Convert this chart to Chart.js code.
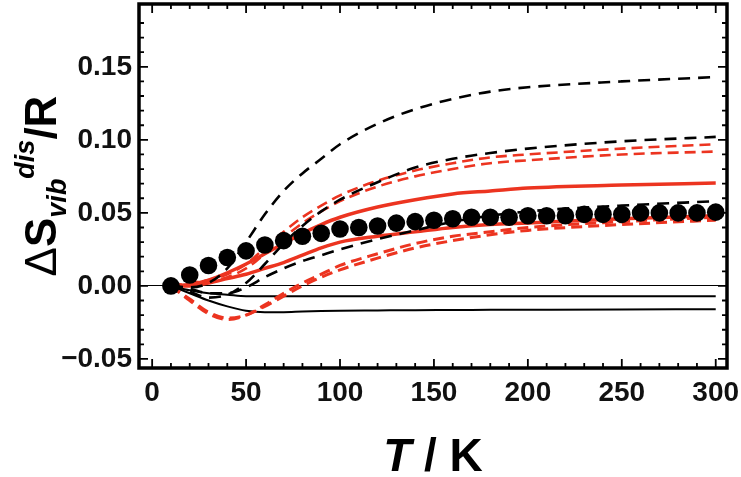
<!DOCTYPE html>
<html lang="en">
<head>
<meta charset="UTF-8">
<title>Vibrational entropy of disorder</title>
<style>
  body { margin: 0; background: #fff; }
  #chart { display: block; }
</style>
</head>
<body>
<canvas id="chart" width="741" height="477"></canvas>

<script src="https://cdn.jsdelivr.net/npm/chart.js@4.4.1/dist/chart.umd.min.js"></script>
<script>
// temperatures (K)
const tDots = [10,20,30,40,50,60,70,80,90,100,110,120,130,140,150,160,170,180,190,200,210,220,230,240,250,260,270,280,290,300];
const tCurve = [10,20,30,40,50,60,70,80,90,100,120,140,160,180,200,250,300];

// measured points (black dots)
const dots = [0,0.0075,0.014,0.0195,0.024,0.028,0.031,0.034,0.036,0.039,0.040,0.041,0.043,0.044,0.045,0.046,0.047,0.047,0.047,0.048,0.048,0.048,0.049,0.049,0.049,0.050,0.050,0.050,0.050,0.0505];

// model curves
const blackDashA = [0,-0.001,0.002,0.012,0.030,0.049,0.065,0.077,0.087,0.097,0.111,0.121,0.128,0.133,0.136,0.140,0.143];
const blackDashB = [0,-0.004,-0.008,-0.006,0.002,0.015,0.029,0.041,0.051,0.059,0.071,0.081,0.087,0.091,0.094,0.099,0.102];
const blackDashC = [0,-0.002,-0.005,-0.005,-0.001,0.006,0.012,0.017,0.021,0.025,0.032,0.038,0.044,0.048,0.051,0.055,0.058];
const redDashUpA = [0,0.002,0.004,0.008,0.015,0.026,0.037,0.047,0.055,0.062,0.072,0.079,0.084,0.088,0.090,0.094,0.097];
const redDashUpB = [0,0.001,0.003,0.006,0.012,0.022,0.033,0.043,0.051,0.058,0.068,0.075,0.080,0.084,0.086,0.090,0.092];
const redDashLoA = [0,-0.010,-0.019,-0.023,-0.020,-0.013,-0.005,0.002,0.008,0.014,0.022,0.029,0.034,0.037,0.040,0.044,0.047];
const redDashLoB = [0,-0.009,-0.018,-0.022,-0.020,-0.014,-0.007,0.000,0.006,0.011,0.019,0.026,0.031,0.035,0.038,0.042,0.045];
const redSolidA = [0,0.001,0.004,0.009,0.015,0.022,0.029,0.036,0.042,0.047,0.054,0.059,0.063,0.065,0.067,0.069,0.0705];
const redSolidB = [0,0.000,0.002,0.005,0.008,0.012,0.016,0.021,0.026,0.030,0.034,0.037,0.040,0.042,0.043,0.046,0.048];
const blackSolidA = [0,-0.003,-0.005,-0.006,-0.007,-0.007,-0.007,-0.007,-0.007,-0.007,-0.007,-0.007,-0.007,-0.007,-0.007,-0.007,-0.007];
const blackSolidB = [0,-0.005,-0.010,-0.014,-0.017,-0.018,-0.018,-0.0175,-0.0172,-0.017,-0.0168,-0.0166,-0.0165,-0.0164,-0.0163,-0.0161,-0.016];

// axes
const xTicks = [0,50,100,150,200,250,300];
const yTicks = [-0.05,0,0.05,0.10,0.15];
const yTickLabels = ['\u22120.05','0.00','0.05','0.10','0.15'];

const RED = 'rgb(236,52,32)';
const FONT = '"Liberation Sans", Arial, Helvetica, sans-serif';

const pts = (xs, ys) => xs.map((x, i) => ({x: x, y: ys[i]}));

function curve(data, color, width, dash) {
    return {
        data: pts(tCurve, data),
        showLine: true,
        borderColor: color,
        borderWidth: width,
        borderDash: dash || [],
        pointRadius: 0,
        cubicInterpolationMode: 'monotone',
        fill: false
    };
}

// frame with inside ticks on all four sides + axis titles
const framePlugin = {
    id: 'frame',
    afterDatasetsDraw(chart) {
        const {ctx, chartArea: a, scales: {x, y}} = chart;
        ctx.save();
        ctx.strokeStyle = '#000';
        ctx.lineWidth = 1.8;
        ctx.beginPath();
        for (let v = 0; v <= 300; v += 10) {
            const px = x.getPixelForValue(v);
            const len = v % 50 === 0 ? 9 : 5;
            ctx.moveTo(px, a.bottom); ctx.lineTo(px, a.bottom - len);
            ctx.moveTo(px, a.top); ctx.lineTo(px, a.top + len);
        }
        for (let k = -5; k <= 18; k++) {
            const py = y.getPixelForValue(k / 100);
            const len = k % 5 === 0 ? 9 : 5;
            ctx.moveTo(a.left, py); ctx.lineTo(a.left + len, py);
            ctx.moveTo(a.right, py); ctx.lineTo(a.right - len, py);
        }
        ctx.stroke();
        ctx.lineWidth = 3.5;
        ctx.strokeRect(a.left, a.top, a.right - a.left, a.bottom - a.top);
        ctx.restore();
    },
    afterDraw(chart) {
        const {ctx, chartArea: a} = chart;
        ctx.save();
        ctx.fillStyle = '#000';
        ctx.textBaseline = 'alphabetic';

        // x title: T / K
        const fT = 'italic bold 46px ' + FONT;
        const fK = 'bold 46px ' + FONT;
        ctx.font = fT; const wT = ctx.measureText('T').width;
        ctx.font = fK; const wK = ctx.measureText(' / K').width;
        const sx = (a.left + a.right) / 2 - (wT + wK) / 2;
        ctx.font = fT; ctx.fillText('T', sx, 471);
        ctx.font = fK; ctx.fillText(' / K', sx + wT, 471);

        // y title: ΔS_vib^dis / R (rotated)
        const parts = [
            {t: '\u0394', f: '44px ' + FONT, dy: 0},
            {t: 'S', f: 'bold 44px ' + FONT, dy: 0},
            {t: 'vib', f: 'italic bold 27px ' + FONT, dy: 10},
            {t: 'dis', f: 'italic bold 27px ' + FONT, dy: -22},
            {t: '/R', f: 'bold 44px ' + FONT, dy: 0}
        ];
        let total = 0;
        parts.forEach(p => { ctx.font = p.f; p.w = ctx.measureText(p.t).width; total += p.w; });
        ctx.translate(56, (a.top + a.bottom) / 2);
        ctx.rotate(-Math.PI / 2);
        let lx = -total / 2;
        parts.forEach(p => { ctx.font = p.f; ctx.fillText(p.t, lx, p.dy); lx += p.w; });
        ctx.restore();
    }
};

const datasets = [
    {
        data: pts(tDots, dots),
        showLine: false,
        pointRadius: 8.8,
        pointBackgroundColor: '#000',
        pointBorderColor: '#000',
        pointBorderWidth: 0
    },
    curve(blackDashA, '#000', 2.6, [12, 8]),
    curve(blackDashB, '#000', 2.6, [12, 8]),
    curve(blackDashC, '#000', 2.6, [12, 8]),
    curve(redDashUpA, RED, 2.6, [11, 6]),
    curve(redDashUpB, RED, 2.6, [11, 6]),
    curve(redDashLoA, RED, 3, [11, 6]),
    curve(redDashLoB, RED, 3, [11, 6]),
    curve(redSolidA, RED, 3.5),
    curve(redSolidB, RED, 3.5),
    curve(blackSolidA, '#000', 2),
    curve(blackSolidB, '#000', 2)
];

new Chart(document.getElementById('chart'), {
    type: 'scatter',
    data: {datasets: datasets},
    plugins: [framePlugin],
    options: {
        responsive: false,
        animation: false,
        layout: {autoPadding: false, padding: {left: 0, right: 14, top: 4, bottom: 0}},
        plugins: {legend: {display: false}, tooltip: {enabled: false}},
        scales: {
            x: {
                type: 'linear',
                min: -7,
                max: 306,
                afterBuildTicks: s => { s.ticks = xTicks.map(v => ({value: v})); },
                afterFit: s => { s.height = 109; s.paddingLeft = 0; s.paddingRight = 0; },
                border: {display: false},
                grid: {display: false, drawTicks: false},
                ticks: {
                    padding: 8,
                    color: '#111',
                    font: {family: FONT, size: 28, weight: 'bold'},
                    callback: v => String(v)
                }
            },
            y: {
                type: 'linear',
                min: -0.0562,
                max: 0.193,
                afterBuildTicks: s => { s.ticks = yTicks.map(v => ({value: v})); },
                afterFit: s => { s.width = 139; s.paddingTop = 0; s.paddingBottom = 0; },
                border: {display: false},
                grid: {
                    drawTicks: false,
                    lineWidth: 1,
                    color: c => (c.tick && c.tick.value === 0) ? '#000' : 'rgba(0,0,0,0)'
                },
                ticks: {
                    padding: 7,
                    color: '#111',
                    font: {family: FONT, size: 28, weight: 'bold'},
                    callback: (v, i) => yTickLabels[i]
                }
            }
        }
    }
});
</script>
</body>
</html>
